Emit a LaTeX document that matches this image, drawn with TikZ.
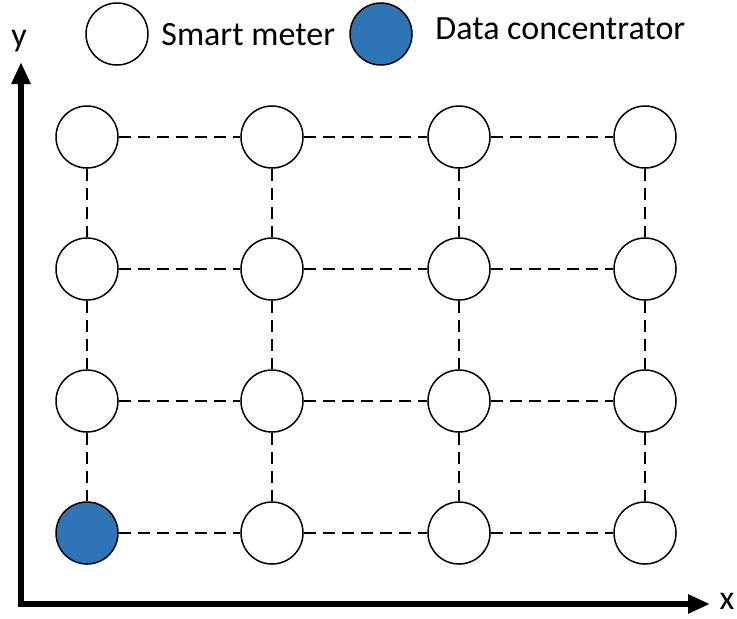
\documentclass[tikz,border=0pt]{standalone}
\usepackage{fontspec}
\setmainfont{Carlito}
\usetikzlibrary{arrows.meta}
\definecolor{dcblue}{RGB}{46,117,182}
\tikzset{
  meter/.style={circle,draw,line width=0.75pt,minimum size=31pt,inner sep=0pt,fill=white},
  concentrator/.style={meter,fill=dcblue},
  link/.style={line width=0.75pt,dash pattern=on 6pt off 3.5pt},
  axis/.style={line width=3pt,line join=miter,{Triangle[length=11pt,width=9pt]}-{Triangle[length=11pt,width=9pt]}},
  lbl/.style={font=\fontsize{17}{20}\selectfont,inner sep=0pt}
}
\begin{document}
\begin{tikzpicture}[x=0.5pt,y=-0.5pt]
      \useasboundingbox (0,0) rectangle (737,618);
      % legend
      \node[meter] (legm) at (117,34) {};
      \node[lbl,anchor=base west] (legmt) at (161,45) {Smart meter};
      \node[concentrator] (legc) at (381,34) {};
      \node[lbl,anchor=base west] (legct) at (435,39) {Data concentrator};
      % axes
      \coordinate (origin) at (21,604);
      \coordinate (ytip) at (21,62);
      \coordinate (xtip) at (710,604);
      \draw[axis] (ytip) -- (origin) -- (xtip);
      \node[lbl,anchor=base] (ylab) at (19,46) {y};
      \node[lbl,anchor=base] (xlab) at (727,609) {x};
      % meters
      \draw
        (87,137) node[meter] (m03){}
        (272,137) node[meter] (m13){}
        (459,137) node[meter] (m23){}
        (645,137) node[meter] (m33){}
        (87,269) node[meter] (m02){}
        (272,269) node[meter] (m12){}
        (459,269) node[meter] (m22){}
        (645,269) node[meter] (m32){}
        (87,401) node[meter] (m01){}
        (272,401) node[meter] (m11){}
        (459,401) node[meter] (m21){}
        (645,401) node[meter] (m31){}
        (87,533) node[concentrator] (m00){}
        (272,533) node[meter] (m10){}
        (459,533) node[meter] (m20){}
        (645,533) node[meter] (m30){};
      \begin{scope}[link]
        \draw (m03) to (m13);
        \draw (m13) to (m23);
        \draw (m23) to (m33);
        \draw (m02) to (m12);
        \draw (m12) to (m22);
        \draw (m22) to (m32);
        \draw (m01) to (m11);
        \draw (m11) to (m21);
        \draw (m21) to (m31);
        \draw (m00) to (m10);
        \draw (m10) to (m20);
        \draw (m20) to (m30);
        \draw (m03) to (m02);
        \draw (m02) to (m01);
        \draw (m01) to (m00);
        \draw (m13) to (m12);
        \draw (m12) to (m11);
        \draw (m11) to (m10);
        \draw (m23) to (m22);
        \draw (m22) to (m21);
        \draw (m21) to (m20);
        \draw (m33) to (m32);
        \draw (m32) to (m31);
        \draw (m31) to (m30);
      \end{scope}
    \end{tikzpicture}
\end{document}
